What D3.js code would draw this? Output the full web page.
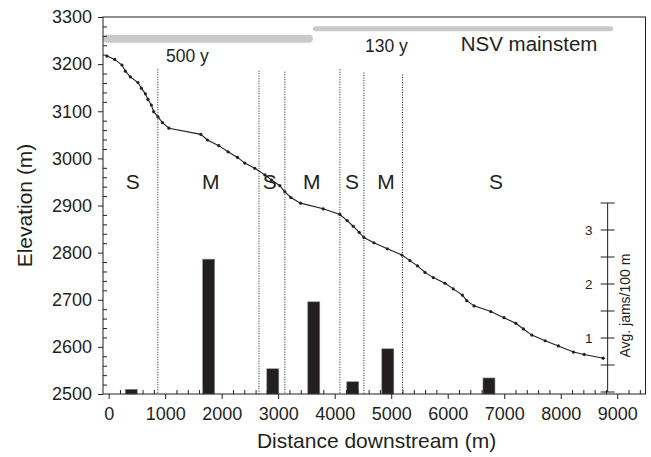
<!DOCTYPE html>
<html>
<head>
<meta charset="utf-8">
<script src="https://cdn.jsdelivr.net/npm/d3@7"></script>
<style>
body{margin:0;background:#fff}
svg text{font-family:"Liberation Sans",Arial,Helvetica,sans-serif;fill:#231f20}
.axis path{display:none}
.axis line{stroke:#231f20;stroke-width:1}
</style>
</head>
<body>
<div id="chart"></div>
<script>
// longitudinal profile: distance downstream (m) / elevation (m)
const profileDist = [-30,106,236,296,384,519,579,650,696,756,797,873,951,1068,1630,1748,1949,2113,2280,2409,2586,2764,2882,3029,3118,3224,3396,3796,4092,4221,4328,4434,4517,4694,4930,5190,5332,5465,5598,5745,5952,6099,6259,6337,6466,6762,6997,7205,7339,7488,7724,7959,8225,8415,8751]
const profileElev = [3217,3210,3198,3185,3173,3161,3149,3137,3125,3113,3099,3088,3076,3064,3051,3039,3027,3014,3002,2990,2979,2965,2954,2942,2929,2917,2905,2893,2881,2868,2856,2843,2832,2821,2808,2795,2783,2772,2758,2747,2735,2723,2710,2698,2687,2675,2662,2650,2638,2625,2613,2602,2589,2584,2576]

// average jams per 100 m, per segment
const barDist = [400,1770,2905,3630,4320,4940,6730]
const barJams = [0.05,2.46,0.43,1.67,0.19,0.80,0.26]

// segment boundaries (dotted lines) and segment types
const boundaryDist = [870,2660,3118,4092,4517,5200]
const boundaryTop = [3189,3186,3184,3189,3182,3178]
const segmentType = ['S','M','S','M','S','M','S']
const segmentDist = [425,1807,2852,3596,4305,4907,6856]

// stand age bars
const ageLabel = ['500 y','130 y']
const ageStart = [-100,3614]
const ageEnd = [3614,8930]
const ageElev = [3254,3275]

// ticks
const xTicks = [0,1000,2000,3000,4000,5000,6000,7000,8000,9000]
const yTicks = [2500,2600,2700,2800,2900,3000,3100,3200,3300]
const jamTicks = [1,2,3]
const jamHalfTicks = [0,0.5,1,1.5,2,2.5,3,3.5]

const width = 651, height = 457
const margin = {top:17, right:5.5, bottom:63, left:103}

const svg = d3.select('#chart').append('svg')
    .attr('width', width)
    .attr('height', height)

const x = d3.scaleLinear().domain([-100, 9500]).range([margin.left, width - margin.right])
const y = d3.scaleLinear().domain([2500, 3300]).range([height - margin.bottom, margin.top])
const yR = d3.scaleLinear().domain([0, 3.5]).range([392, 203])
const bottom = height - margin.bottom

// stand age bars
ageLabel.forEach((d, i) => {
    const w = i == 0 ? 8 : 5
    svg.append('line')
        .attr('x1', Math.max(x(ageStart[i]), margin.left) + w/2)
        .attr('x2', x(ageEnd[i]) - w/2)
        .attr('y1', y(ageElev[i])).attr('y2', y(ageElev[i]))
        .attr('stroke', '#cacaca')
        .attr('stroke-width', w)
        .attr('stroke-linecap', 'round')
})
svg.append('text').attr('x', x(1015)).attr('y', y(3205)).style('font-size', '17.5px').text(ageLabel[0])
svg.append('text').attr('x', x(4536)).attr('y', y(3226)).style('font-size', '17.5px').text(ageLabel[1])
svg.append('text').attr('x', x(6230)).attr('y', y(3228)).style('font-size', '20.5px').text('NSV mainstem')

// dotted boundaries
svg.selectAll('.boundary')
    .data(boundaryDist)
    .enter().append('line')
    .attr('class', 'boundary')
    .attr('x1', d => x(d)).attr('x2', d => x(d))
    .attr('y1', (d, i) => y(boundaryTop[i]))
    .attr('y2', bottom)
    .attr('stroke', '#231f20')
    .attr('stroke-width', 1)
    .attr('stroke-dasharray', '1,1.5')

// segment type labels
svg.selectAll('.seg')
    .data(segmentType)
    .enter().append('text')
    .attr('class', 'seg')
    .attr('text-anchor', 'middle')
    .attr('x', (d, i) => x(segmentDist[i]))
    .attr('y', y(2934))
    .style('font-size', '21px')
    .text(d => d)

// jam bars
svg.selectAll('.bar')
    .data(barJams)
    .enter().append('rect')
    .attr('class', 'bar')
    .attr('x', (d, i) => x(barDist[i]) - 6)
    .attr('width', 12)
    .attr('y', d => yR(d))
    .attr('height', d => bottom - yR(d))
    .attr('fill', '#231f20')
    .attr('stroke', '#888')
    .attr('stroke-width', 0.6)

// profile line + points
const profile = profileDist.map((d, i) => [d, profileElev[i]])
svg.append('path')
    .datum(profile)
    .attr('fill', 'none')
    .attr('stroke', '#231f20')
    .attr('stroke-width', 1.1)
    .attr('d', d3.line().x(d => x(d[0])).y(d => y(d[1])))
svg.selectAll('.pt')
    .data(profile)
    .enter().append('circle')
    .attr('class', 'pt')
    .attr('cx', d => x(d[0]))
    .attr('cy', d => y(d[1]))
    .attr('r', 1.6)
    .attr('fill', '#231f20')

// x axis: major ticks outside, minor inside
svg.append('g').attr('class', 'axis')
    .attr('transform', `translate(0,${bottom})`)
    .call(d3.axisBottom(x).tickValues(xTicks).tickFormat(d3.format('d')).tickSize(5).tickPadding(8))
    .selectAll('text').style('font-size', '18px')
svg.append('g').attr('class', 'axis')
    .attr('transform', `translate(0,${bottom})`)
    .call(d3.axisBottom(x).tickValues(d3.range(200, 9500, 200).filter(d => d % 1000)).tickSize(-4).tickFormat(''))

// y axis
svg.append('g').attr('class', 'axis')
    .attr('transform', `translate(${margin.left},0)`)
    .call(d3.axisLeft(y).tickValues(yTicks).tickFormat(d3.format('d')).tickSize(5).tickPadding(6))
    .selectAll('text').style('font-size', '18px')
svg.append('g').attr('class', 'axis')
    .attr('transform', `translate(${margin.left},0)`)
    .call(d3.axisLeft(y).tickValues(d3.range(2520, 3300, 20).filter(d => d % 100)).tickSize(-4).tickFormat(''))

// frame
svg.append('rect')
    .attr('x', margin.left).attr('y', margin.top)
    .attr('width', width - margin.left - margin.right)
    .attr('height', bottom - margin.top)
    .attr('fill', 'none')
    .attr('stroke', '#231f20')
    .attr('stroke-width', 1)

// right axis for jams
const rx = x(8830)
svg.append('line')
    .attr('x1', rx).attr('x2', rx)
    .attr('y1', yR(3.5)).attr('y2', yR(0))
    .attr('stroke', '#231f20')
svg.selectAll('.rtick')
    .data(jamHalfTicks)
    .enter().append('line')
    .attr('class', 'rtick')
    .attr('x1', rx - 7).attr('x2', rx + 7)
    .attr('y1', d => yR(d)).attr('y2', d => yR(d))
    .attr('stroke', '#231f20')
svg.selectAll('.rlab')
    .data(jamTicks)
    .enter().append('text')
    .attr('class', 'rlab')
    .attr('text-anchor', 'end')
    .attr('x', rx - 15)
    .attr('y', d => yR(d))
    .attr('dy', '0.35em')
    .style('font-size', '13.5px')
    .text(d => d)
svg.append('text')
    .attr('transform', `translate(${rx + 22},${yR(1.6)}) rotate(-90)`)
    .attr('text-anchor', 'middle')
    .style('font-size', '14px')
    .text('Avg. jams/100 m')

// axis titles
svg.append('text')
    .attr('x', x(4740)).attr('y', 448)
    .attr('text-anchor', 'middle')
    .style('font-size', '21px')
    .text('Distance downstream (m)')
svg.append('text')
    .attr('transform', `translate(32,${y(2900)}) rotate(-90)`)
    .attr('text-anchor', 'middle')
    .style('font-size', '21px')
    .text('Elevation (m)')
</script>
</body>
</html>
